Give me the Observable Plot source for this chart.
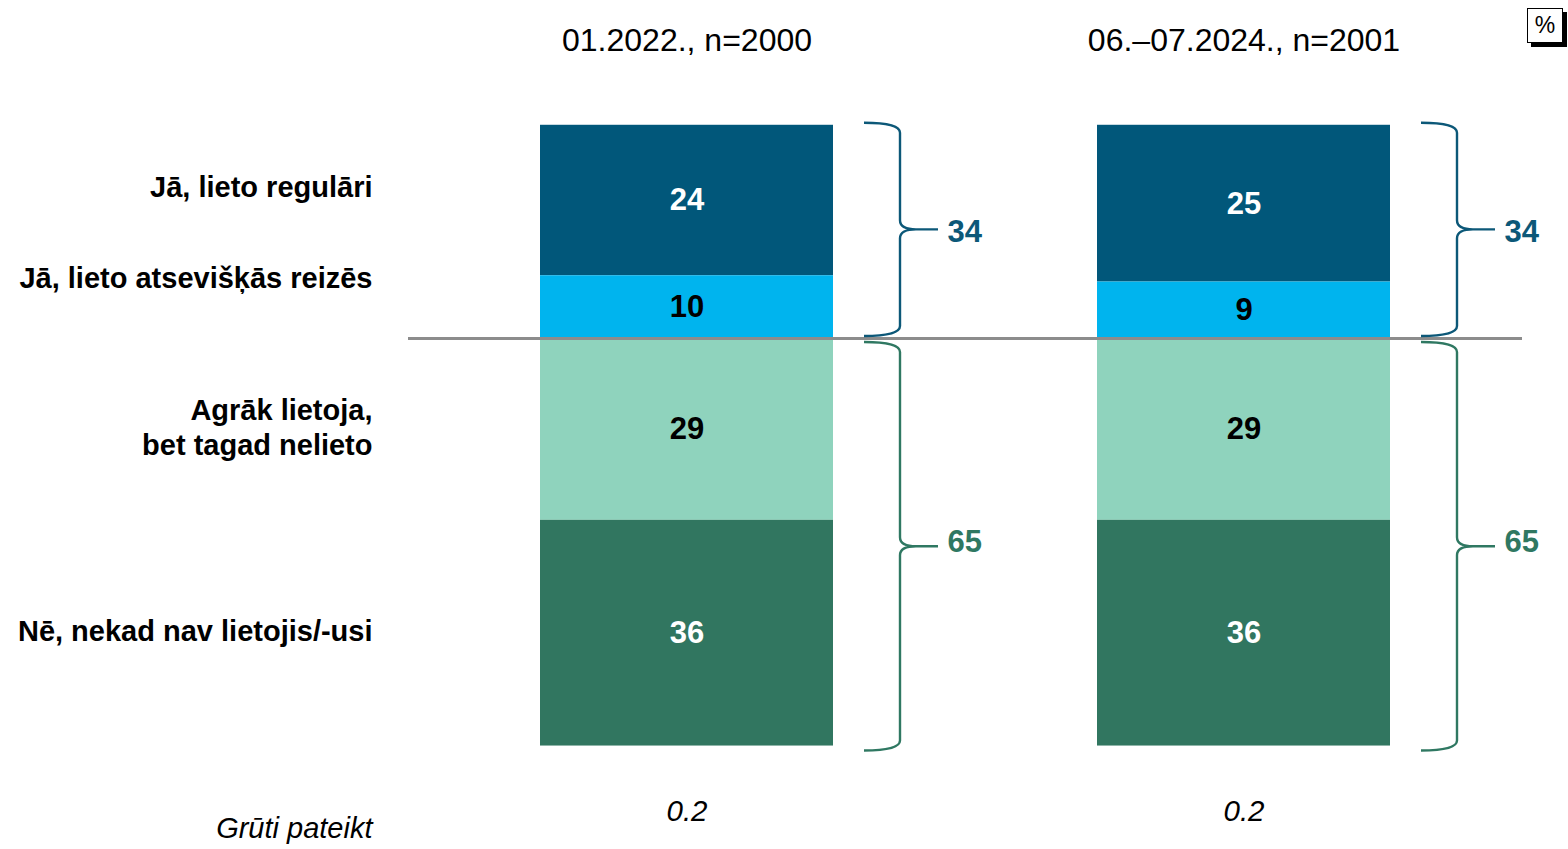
<!DOCTYPE html>
<html>
<head>
<meta charset="utf-8">
<script src="https://cdn.jsdelivr.net/npm/d3@7"></script>
<script src="https://cdn.jsdelivr.net/npm/@observablehq/plot@0.6"></script>
<style>
  html, body { margin: 0; padding: 0; background: #fff; }
  #wrap { position: relative; width: 1568px; height: 849px; }
  #pct {
    position: absolute; left: 1527px; top: 8px; width: 34px; height: 33px;
    border: 1.5px solid #000; background: #fff; box-shadow: 4px 4px 0 #000;
    font: 23px "Liberation Sans", Arial, sans-serif; text-align: center; line-height: 33px;
  }
</style>
</head>
<body>
<div id="wrap"><div id="pct">%</div></div>
<script>
// ---- data ----
const periods = ["01.2022., n=2000", "06.–07.2024., n=2001"];
const categories = [
  "Jā, lieto regulāri",
  "Jā, lieto atsevišķās reizēs",
  "Agrāk lietoja,\nbet tagad nelieto",
  "Nē, nekad nav lietojis/-usi"
];
const sides = ["lieto", "lieto", "nelieto", "nelieto"];
const values2022 = [24, 10, 29, 36];
const values2024 = [25, 9, 29, 36];
const usersTotal = [34, 34];
const nonUsersTotal = [65, 65];
const hardToSayLabel = "Grūti pateikt";
const hardToSay = [0.2, 0.2];
const colors = ["#01577a", "#00b4ee", "#8fd3bd", "#317660"];
const darkCategories = [categories[0], categories[3]];

// ---- table ----
const rows = [];
[values2022, values2024].forEach((vals, pi) => {
  vals.forEach((v, ci) => {
    rows.push({
      period: periods[pi],
      category: categories[ci],
      value: v,
      signed: sides[ci] === "lieto" ? v : -v
    });
  });
});
const totals = periods.flatMap((p, i) => [
  {period: p, y: usersTotal[i] / 2, text: String(usersTotal[i]), group: "lieto"},
  {period: p, y: -nonUsersTotal[i] / 2, text: String(nonUsersTotal[i]), group: "nelieto"}
]);
const braces = periods.flatMap((p, i) => [
  {period: p, from: usersTotal[i], to: 0, group: "lieto"},
  {period: p, from: 0, to: -nonUsersTotal[i], group: "nelieto"}
]);
const hardRows = periods.map((p, i) => ({period: p, value: hardToSay[i]}));
const bottomOfBars = -Math.max(...nonUsersTotal);

const stackOrder = [categories[1], categories[0], categories[2], categories[3]];
const FONT = '"Liberation Sans", Arial, sans-serif';
const blue = "#0c5878", green = "#2f7862";

function braceMark(index, scales) {
  const x = scales.x, y = scales.y;
  const bw = x.bandwidth ? x.bandwidth() : 293;
  const g = d3.create("svg:g").attr("fill", "none").attr("stroke-width", 2.4);
  for (const b of braces) {
    const xr = x(b.period) + bw;
    const xs = xr + 31, xv = xr + 67, xt = xr + 105;
    let y0 = y(b.from), y1 = y(b.to);
    if (b.group === "lieto") { y0 -= 2; y1 -= 2; } else { y0 += 4; y1 += 5; }
    const ym = (y0 + y1) / 2;
    const p = d3.path();
    p.moveTo(xs, y0);
    p.quadraticCurveTo(xv, y0, xv, y0 + 10);
    p.lineTo(xv, ym - 9);
    p.quadraticCurveTo(xv, ym, xv + 16, ym);
    p.lineTo(xt, ym);
    p.moveTo(xv + 16, ym);
    p.quadraticCurveTo(xv, ym, xv, ym + 9);
    p.lineTo(xv, y1 - 10);
    p.quadraticCurveTo(xv, y1, xs, y1);
    g.append("path").attr("d", p.toString()).attr("stroke", b.group === "lieto" ? blue : green);
  }
  return g.node();
}

// stack midpoints (first column) for the category labels
const mids = {};
{
  let pos = 0, neg = 0;
  for (const cat of stackOrder) {
    const d = rows.find(e => e.period === periods[0] && e.category === cat);
    if (d.signed >= 0) { mids[cat] = pos + d.signed / 2; pos += d.signed; }
    else { mids[cat] = neg + d.signed / 2; neg += d.signed; }
  }
}
const labelDy = [-15, -30, -3, -3];

const chart = Plot.plot({
  width: 1568,
  height: 849,
  marginTop: 0,
  marginBottom: 0,
  marginLeft: 408,
  marginRight: 46,
  style: {fontFamily: FONT, background: "white"},
  x: {domain: periods, type: "band", paddingInner: 0.474, paddingOuter: 0.237, axis: null},
  y: {domain: [-81.5, 53.9], axis: null},
  color: {domain: categories, range: colors},
  marks: [
    Plot.barY(rows, Plot.stackY({x: "period", y: "signed", fill: "category", z: "category", order: stackOrder})),
    Plot.ruleY([0], {stroke: "#8c8c8c", strokeWidth: 3}),
    Plot.text(rows, Plot.filter(d => darkCategories.includes(d.category), Plot.stackY({
      x: "period", y: "signed", z: "category", order: stackOrder,
      text: d => String(d.value), fill: "white", fontSize: 31, fontWeight: "bold"
    }))),
    Plot.text(rows, Plot.filter(d => !darkCategories.includes(d.category), Plot.stackY({
      x: "period", y: "signed", z: "category", order: stackOrder,
      text: d => String(d.value), fill: "black", fontSize: 31, fontWeight: "bold"
    }))),
    braceMark,
    Plot.text(totals, {
      x: "period", y: "y", text: "text", dx: 146.5 + 114, textAnchor: "start",
      fill: d => d.group === "lieto" ? blue : green, fontSize: 31, fontWeight: "bold"
    }),
    // column headers
    Plot.text(periods, {x: d => d, frameAnchor: "top", lineAnchor: "middle", dy: 40, fontSize: 32, fill: "black"}),
    // category labels
    ...categories.map((c, i) => Plot.text([c], {
      y: () => mids[c], frameAnchor: "left", dx: -36, dy: labelDy[i], textAnchor: "end",
      fontSize: 29, fontWeight: "bold", fill: "black", lineHeight: 1.2
    })),
    // hard to say
    Plot.text(hardRows, {
      x: "period", y: () => bottomOfBars, text: d => String(d.value), dy: 66,
      fontSize: 29.5, fontStyle: "italic", fill: "black"
    }),
    Plot.text([hardToSayLabel], {
      frameAnchor: "bottom-left", dx: -36, dy: -21, textAnchor: "end", lineAnchor: "middle",
      fontSize: 29, fontStyle: "italic", fill: "black"
    })
  ]
});
document.getElementById("wrap").prepend(chart);
</script>
</body>
</html>
